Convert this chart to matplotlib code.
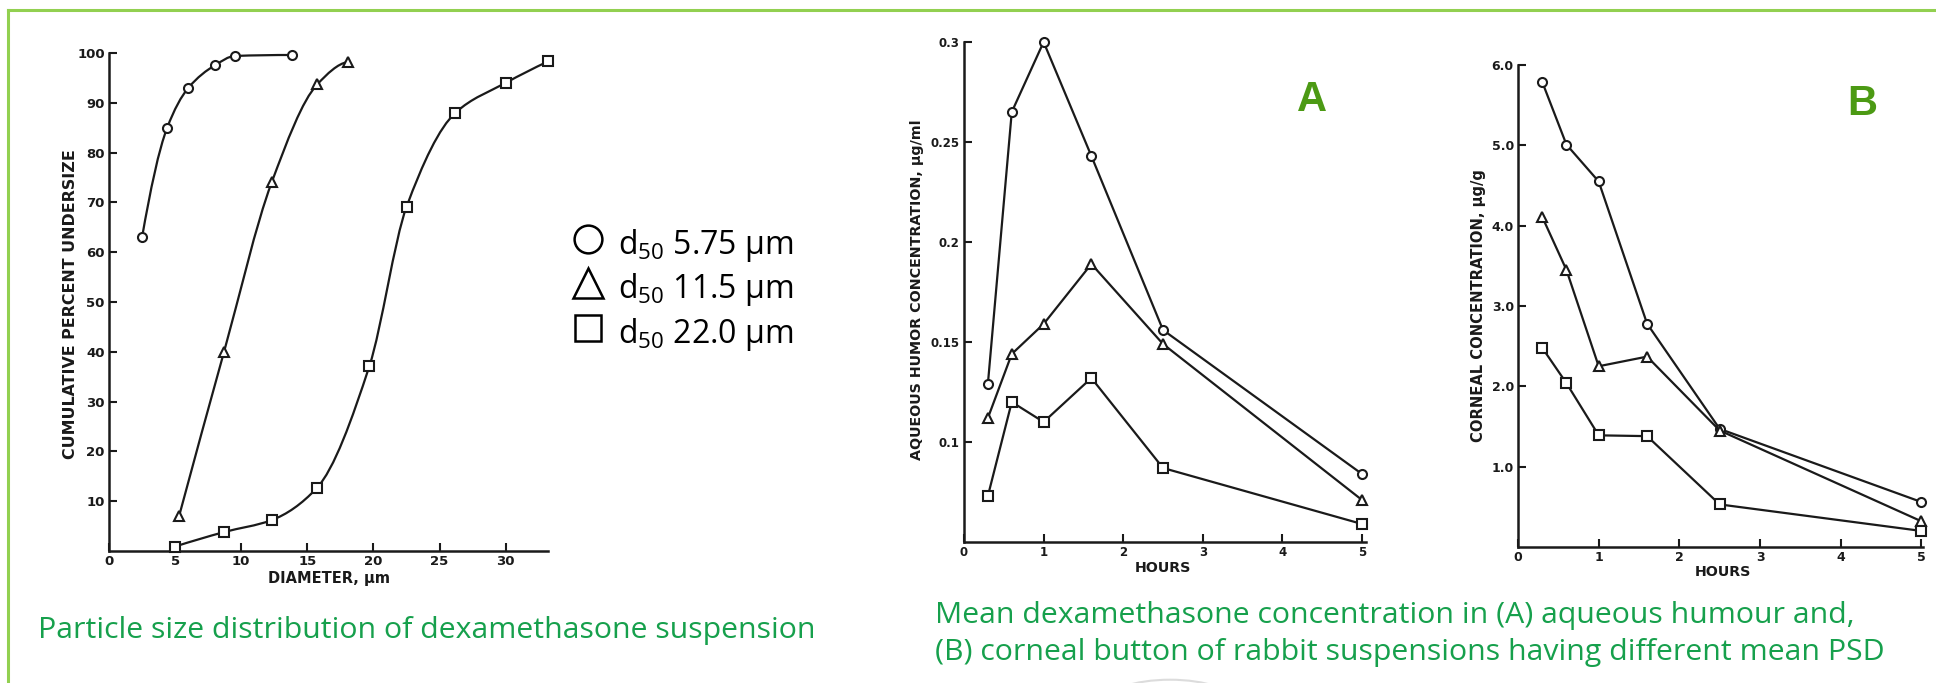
import matplotlib
matplotlib.use('Agg')
import matplotlib.pyplot as plt
from matplotlib.path import Path
from matplotlib.patches import PathPatch, Circle
from matplotlib.lines import Line2D
import numpy as np

# left panel: cumulative percent undersize vs diameter (um)
psd_small_x = [2.5, 4.4, 6.0, 8.05, 9.5, 13.85]
psd_small_y = [63.0, 85.0, 93.0, 97.6, 99.4, 99.6]
psd_mid_x = [5.3, 8.7, 12.3, 15.75, 18.05]
psd_mid_y = [7.0, 40.0, 74.0, 93.7, 98.2]
psd_large_x = [5.0, 8.7, 12.3, 15.7, 19.7, 22.5, 26.2, 30.0, 33.2]
psd_large_y = [0.9, 3.8, 6.2, 12.6, 37.2, 69.1, 88.0, 94.0, 98.3]

# middle / right panels: concentration vs hours
hours = [0.3, 0.6, 1.0, 1.6, 2.5, 5.0]
aq_small = [0.129, 0.265, 0.300, 0.243, 0.156, 0.084]
aq_mid = [0.112, 0.144, 0.159, 0.189, 0.149, 0.071]
aq_large = [0.073, 0.120, 0.110, 0.132, 0.087, 0.059]
cor_small = [5.79, 5.01, 4.55, 2.78, 1.47, 0.56]
cor_mid = [4.11, 3.45, 2.25, 2.37, 1.45, 0.32]
cor_large = [2.48, 2.04, 1.39, 1.38, 0.53, 0.20]

d50_labels = ['5.75', '11.5', '22.0']
markers = ['o', '^', 's']

W, H = 1936, 683
INK = '#1a1a1a'
CAP_GREEN = '#16a04c'
LETTER_GREEN = '#4c9a14'
BORDER = '#92d050'

plt.rcParams['mathtext.fontset'] = 'custom'
plt.rcParams['mathtext.rm'] = 'Open Sans'


def fx(px):
    return px / W


def fy(py):
    return 1 - py / H


def add_axes_px(fig, left, top, right, bottom):
    return fig.add_axes([fx(left), fy(bottom), (right - left) / W, (bottom - top) / H])


def pchip_slopes(x, y):
    """Fritsch-Carlson slopes so the drawn curve stays monotone."""
    h = np.diff(x)
    d = np.diff(y) / h
    m = np.zeros(len(x))
    for i in range(1, len(x) - 1):
        if d[i - 1] * d[i] <= 0:
            m[i] = 0
        else:
            w1 = 2 * h[i] + h[i - 1]
            w2 = h[i] + 2 * h[i - 1]
            m[i] = (w1 + w2) / (w1 / d[i - 1] + w2 / d[i])
    m[0] = ((2 * h[0] + h[1]) * d[0] - h[0] * d[1]) / (h[0] + h[1])
    m[-1] = ((2 * h[-1] + h[-2]) * d[-1] - h[-1] * d[-2]) / (h[-1] + h[-2])
    if m[0] * d[0] <= 0:
        m[0] = 0
    if m[-1] * d[-1] <= 0:
        m[-1] = 0
    return m


def smooth_path(xs, ys):
    """Cubic bezier path through the points (hermite form)."""
    x = np.asarray(xs, float)
    y = np.asarray(ys, float)
    m = pchip_slopes(x, y)
    verts = [(x[0], y[0])]
    codes = [Path.MOVETO]
    for i in range(len(x) - 1):
        h = x[i + 1] - x[i]
        verts += [(x[i] + h / 3, y[i] + m[i] * h / 3),
                  (x[i + 1] - h / 3, y[i + 1] - m[i + 1] * h / 3),
                  (x[i + 1], y[i + 1])]
        codes += [Path.CURVE4] * 3
    return Path(verts, codes)


def style_axes(ax, labelsize):
    for s in ['top', 'right']:
        ax.spines[s].set_visible(False)
    for s in ['left', 'bottom']:
        ax.spines[s].set_linewidth(1.8)
        ax.spines[s].set_color(INK)
    ax.tick_params(direction='in', length=6, width=1.5, colors=INK,
                   labelsize=labelsize, pad=3)
    for lab in ax.get_xticklabels() + ax.get_yticklabels():
        lab.set_fontweight('bold')


mk = dict(mfc='white', mec=INK, mew=1.5, clip_on=False, zorder=3)

fig = plt.figure(figsize=(W / 100, H / 100), dpi=100)

# ---- panel 1: particle size distribution
ax1 = add_axes_px(fig, 109, 53, 548, 551)
for xs, ys, m in zip([psd_small_x, psd_mid_x, psd_large_x],
                     [psd_small_y, psd_mid_y, psd_large_y], markers):
    ax1.add_patch(PathPatch(smooth_path(xs, ys), fill=False, ec=INK, lw=1.6,
                            clip_on=False))
    ax1.plot(xs, ys, ls='none', marker=m, ms=7 if m == '^' else 6.5, **mk)
ax1.set_xlim(0, 33.2)
ax1.set_ylim(0, 100)
ax1.set_xticks([0, 5, 10, 15, 20, 25, 30])
ax1.set_yticks(range(10, 101, 10))
style_axes(ax1, 9.5)

# ---- panel 2: aqueous humour
ax2 = add_axes_px(fig, 964, 42, 1366, 542)
for vals, m in zip([aq_small, aq_mid, aq_large], markers):
    ax2.plot(hours, vals, color=INK, lw=1.6, marker=m,
             ms=7.5 if m == '^' else 6.5, **mk)
ax2.set_xlim(0, 5.05)
ax2.set_ylim(0.05, 0.3)
ax2.set_xticks(range(6))
ax2.set_yticks([0.1, 0.15, 0.2, 0.25, 0.3])
ax2.set_yticklabels(['0.1', '0.15', '0.2', '0.25', '0.3'])
style_axes(ax2, 8.5)

# ---- panel 3: corneal button
ax3 = add_axes_px(fig, 1518, 65, 1923, 547)
for vals, m in zip([cor_small, cor_mid, cor_large], markers):
    ax3.plot(hours, vals, color=INK, lw=1.6, marker=m,
             ms=7.5 if m == '^' else 6.5, **mk)
ax3.set_xlim(0, 5.02)
ax3.set_ylim(0, 6)
ax3.set_xticks(range(6))
ax3.set_yticks([1, 2, 3, 4, 5, 6])
ax3.set_yticklabels(['1.0', '2.0', '3.0', '4.0', '5.0', '6.0'])
style_axes(ax3, 9)

# axis titles (scanned figure style)
bold = dict(fontweight='bold', color=INK, ha='center', va='center')
fig.text(fx(71), fy(304), 'CUMULATIVE PERCENT UNDERSIZE', rotation=90, fontsize=11.4, **bold)
fig.text(fx(329), fy(578), 'DIAMETER, µm', fontsize=10.5, **bold)
fig.text(fx(917), fy(290), 'AQUEOUS HUMOR CONCENTRATION, µg/ml', rotation=90, fontsize=10.3, **bold)
fig.text(fx(1163), fy(568), 'HOURS', fontsize=10.3, **bold)
fig.text(fx(1478), fy(306), 'CORNEAL CONCENTRATION, µg/g', rotation=90, fontsize=10.6, **bold)
fig.text(fx(1723), fy(572), 'HOURS', fontsize=10.3, **bold)

# panel letters
fig.text(fx(1312), fy(100), 'A', fontsize=30, fontweight='bold', color=LETTER_GREEN,
         family='Liberation Sans', ha='center', va='center')
fig.text(fx(1862), fy(104), 'B', fontsize=30, fontweight='bold', color=LETTER_GREEN,
         family='Liberation Sans', ha='center', va='center')

# legend for the d50 sizes
legend_ms = {'o': 20, '^': 21, 's': 19}
for i, (lab, m) in enumerate(zip(d50_labels, markers)):
    base = 254 + 44.5 * i
    fig.add_artist(Line2D([fx(588)], [fy(base - 15)], transform=fig.transFigure,
                          marker=m, ms=legend_ms[m], mfc='white', mec='black', mew=1.8))
    fig.text(fx(618), fy(base), r'd$_{\mathrm{50}}$ ' + lab + ' µm', fontsize=23,
             family='Open Sans', color='black', va='baseline', ha='left')

# green captions
cap = dict(fontsize=21.8, family='Open Sans', color=CAP_GREEN, va='baseline', ha='left')
fig.text(fx(38), fy(638), 'Particle size distribution of dexamethasone suspension', **cap)
fig.text(fx(935), fy(623), 'Mean dexamethasone concentration in (A) aqueous humour and,', **cap)
fig.text(fx(935), fy(660), '(B) corneal button of rabbit suspensions having different mean PSD', **cap)

# slide border and faint circle
fig.add_artist(Line2D([fx(8), 1], [fy(10), fy(10)], transform=fig.transFigure,
                      color=BORDER, lw=2.2))
fig.add_artist(Line2D([fx(8), fx(8)], [0, fy(10)], transform=fig.transFigure,
                      color=BORDER, lw=2.2))
fig.add_artist(Circle((fx(1170), fy(703)), 66 / W, transform=fig.transFigure,
                      fill=False, ec='#dcdcdc', lw=1.5))

fig.savefig('out.png', dpi=100)
